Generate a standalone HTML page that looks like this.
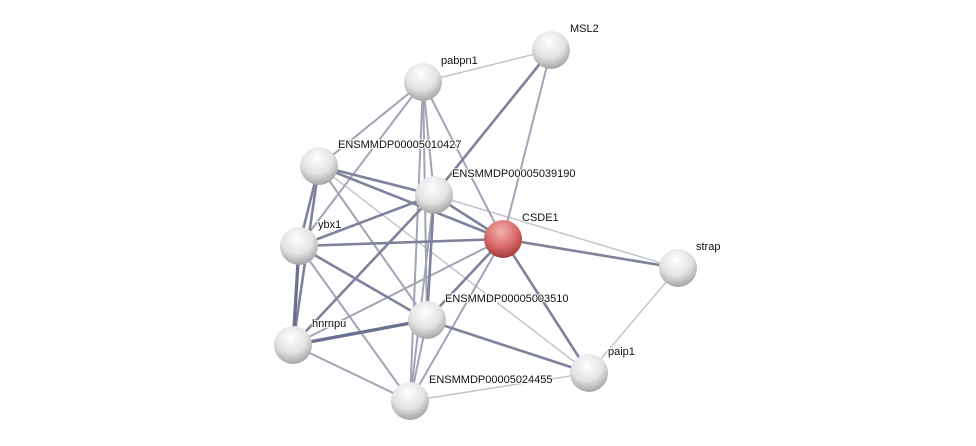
<!DOCTYPE html>
<html><head><meta charset="utf-8"><style>
html,body{margin:0;padding:0;background:#fff;}
svg{display:block}
text{font-family:"Liberation Sans",sans-serif;font-size:11px;fill:#111;paint-order:stroke;stroke:#fff;stroke-width:2px;}
</style></head><body>
<svg width="976" height="446" viewBox="0 0 976 446" xmlns="http://www.w3.org/2000/svg">
<defs>
<radialGradient id="g" cx="0.45" cy="0.3" r="0.75">
<stop offset="0" stop-color="#ffffff"/><stop offset="0.55" stop-color="#e2e2e2"/><stop offset="1" stop-color="#9a9a9a"/>
</radialGradient>
<radialGradient id="r" cx="0.45" cy="0.3" r="0.75">
<stop offset="0" stop-color="#f4b0b0"/><stop offset="0.55" stop-color="#d96a6a"/><stop offset="1" stop-color="#9a3434"/>
</radialGradient>
</defs>
<g stroke-linecap="round">
<g stroke="#c2c5cf" stroke-width="1.5">
<line x1="551" y1="50" x2="423" y2="82"/>
<line x1="319" y1="166" x2="589" y2="373"/>
<line x1="434" y1="195" x2="678" y2="268"/>
<line x1="410" y1="401" x2="589" y2="373"/>
<line x1="678" y1="268" x2="589" y2="373"/>
</g>
<g stroke="#a0a4b6" stroke-width="2">
<line x1="423" y1="82" x2="319" y2="166"/>
<line x1="423" y1="82" x2="299" y2="246"/>
<line x1="423" y1="82" x2="434" y2="195"/>
<line x1="423" y1="82" x2="503" y2="239"/>
<line x1="423" y1="82" x2="427" y2="320"/>
<line x1="423" y1="82" x2="410" y2="401"/>
<line x1="319" y1="166" x2="427" y2="320"/>
<line x1="434" y1="195" x2="410" y2="401"/>
<line x1="503" y1="239" x2="410" y2="401"/>
<line x1="503" y1="239" x2="293" y2="345"/>
<line x1="299" y1="246" x2="410" y2="401"/>
<line x1="293" y1="345" x2="410" y2="401"/>
<line x1="427" y1="320" x2="410" y2="401"/>
<line x1="551" y1="50" x2="503" y2="239"/>
</g>
<g stroke="#7e829b" stroke-width="2.6">
<line x1="551" y1="50" x2="434" y2="195"/>
<line x1="319" y1="166" x2="434" y2="195"/>
<line x1="319" y1="166" x2="299" y2="246"/>
<line x1="319" y1="166" x2="293" y2="345"/>
<line x1="319" y1="166" x2="503" y2="239"/>
<line x1="434" y1="195" x2="299" y2="246"/>
<line x1="434" y1="195" x2="503" y2="239"/>
<line x1="434" y1="195" x2="293" y2="345"/>
<line x1="434" y1="195" x2="427" y2="320"/>
<line x1="503" y1="239" x2="299" y2="246"/>
<line x1="503" y1="239" x2="678" y2="268"/>
<line x1="503" y1="239" x2="427" y2="320"/>
<line x1="503" y1="239" x2="589" y2="373"/>
<line x1="299" y1="246" x2="427" y2="320"/>
<line x1="427" y1="320" x2="589" y2="373"/>
</g>
<g stroke="#6b7090" stroke-width="3.3">
<line x1="299" y1="246" x2="293" y2="345"/>
<line x1="293" y1="345" x2="427" y2="320"/>
</g>
</g>
<g>
<circle cx="551" cy="50" r="19" fill="url(#g)"/>
<circle cx="423" cy="82" r="19" fill="url(#g)"/>
<circle cx="319" cy="166" r="19" fill="url(#g)"/>
<circle cx="434" cy="195" r="19" fill="url(#g)"/>
<circle cx="503" cy="239" r="19" fill="url(#r)"/>
<circle cx="299" cy="246" r="19" fill="url(#g)"/>
<circle cx="678" cy="268" r="19" fill="url(#g)"/>
<circle cx="427" cy="320" r="19" fill="url(#g)"/>
<circle cx="293" cy="345" r="19" fill="url(#g)"/>
<circle cx="589" cy="373" r="19" fill="url(#g)"/>
<circle cx="410" cy="401" r="19" fill="url(#g)"/>
</g>
<g>
<text x="570" y="32">MSL2</text>
<text x="441" y="64">pabpn1</text>
<text x="338" y="148">ENSMMDP00005010427</text>
<text x="452" y="177">ENSMMDP00005039190</text>
<text x="522" y="221">CSDE1</text>
<text x="318" y="228">ybx1</text>
<text x="696" y="250">strap</text>
<text x="445" y="302">ENSMMDP00005003510</text>
<text x="312" y="327">hnrnpu</text>
<text x="608" y="355">paip1</text>
<text x="429" y="383">ENSMMDP00005024455</text>
</g>
</svg>
</body></html>
